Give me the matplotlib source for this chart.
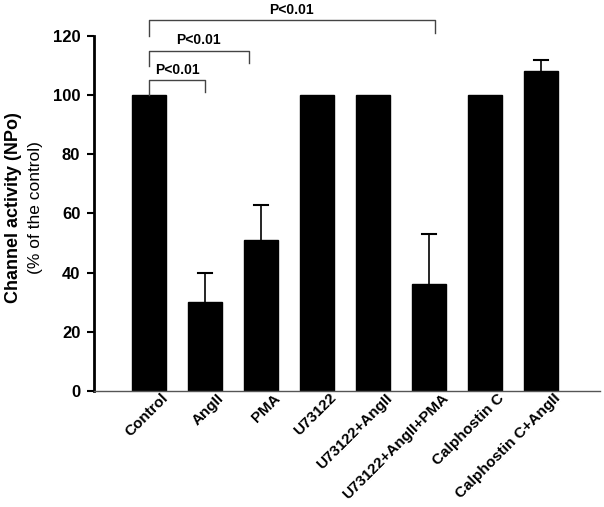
import matplotlib
matplotlib.use("Agg")
import matplotlib.pyplot as plt
import matplotlib.transforms as mtransforms
import numpy as np

plt.rcParams['font.family'] = ['Liberation Sans', 'DejaVu Sans']

categories = ['Control', 'AngII', 'PMA', 'U73122', 'U73122+AngII',
              'U73122+AngII+PMA', 'Calphostin C', 'Calphostin C+AngII']
values = [100, 30, 51, 100, 100, 36, 100, 108]
errors = [0, 10, 12, 0, 0, 17, 0, 4]

# significance brackets: (x start, x end, left leg bottom, right leg bottom, top, label)
brackets = [
    (0, 1.0, 100, 101, 105, 'P<0.01'),
    (0, 1.78, 110, 111, 115, 'P<0.01'),
    (0, 5.1, 120, 121, 125.3, 'P<0.01'),
]

fig = plt.figure(figsize=(6.04, 5.07), dpi=100)
ax = fig.add_axes([0.156, 0.229, 0.837, 0.700])

x = np.arange(len(categories))
ax.bar(x, values, width=0.6, color='black', edgecolor='black')

# upper-only error bars with caps
for xi, v, e in zip(x, values, errors):
    if e > 0:
        ax.plot([xi, xi], [v, v + e], color='black', lw=1.2)
        ax.plot([xi - 0.12, xi + 0.12], [v + e, v + e], color='black', lw=1.5)

for x0, x1, yl, yr, yt, lab in brackets:
    ax.plot([x0, x0, x1, x1], [yl, yt, yt, yr], color='#444444', lw=1.0,
            clip_on=False)
    ax.text((x0 + x1) / 2, yt + 1.2, lab, ha='center', va='bottom',
            fontsize=10, fontweight='bold', clip_on=False)

ax.set_xlim(-0.98, 8.05)
ax.set_ylim(0, 120)
ax.set_yticks(np.arange(0, 121, 20))
ax.tick_params(axis='y', direction='out', length=5, width=1.5, labelsize=12,
               pad=5)
for t in ax.get_yticklabels():
    t.set_fontweight('bold')
ax.set_xticks(x)
ax.set_xticklabels(categories, rotation=45, ha='right', rotation_mode='anchor',
                   fontsize=11, fontweight='bold')
ax.tick_params(axis='x', length=0, pad=0)
offset = mtransforms.ScaledTranslation(0.12, 0, fig.dpi_scale_trans)
for t in ax.get_xticklabels():
    t.set_transform(t.get_transform() + offset)

ax.spines['top'].set_visible(False)
ax.spines['right'].set_visible(False)
ax.spines['left'].set_linewidth(2)
ax.spines['bottom'].set_linewidth(1)
ax.spines['bottom'].set_color('#555555')

fig.text(0.022, 0.59, 'Channel activity (NPo)', rotation=90, ha='center',
         va='center', fontsize=13, fontweight='bold')
fig.text(0.058, 0.59, '(% of the control)', rotation=90, ha='center',
         va='center', fontsize=12.5)

fig.savefig('out.png', dpi=100)
